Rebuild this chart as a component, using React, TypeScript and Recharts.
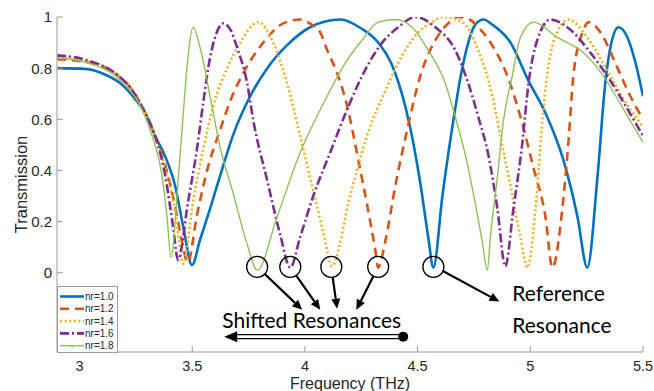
import React from "react";
import { LineChart, Line, XAxis, YAxis, ReferenceDot, ReferenceLine } from "recharts";

// [frequency THz, transmission], one list per refractive index
const nr10 = [
  [2.9, 0.8], [3.024, 0.797], [3.113, 0.775], [3.189, 0.735], [3.246, 0.68], [3.291, 0.625],
  [3.335, 0.535], [3.38, 0.455], [3.424, 0.34], [3.46, 0.18], [3.499, 0.03], [3.535, 0.13],
  [3.579, 0.25], [3.624, 0.38], [3.682, 0.54], [3.757, 0.69], [3.833, 0.8], [3.921, 0.89],
  [4.023, 0.96], [4.157, 0.99], [4.25, 0.955], [4.325, 0.9], [4.401, 0.78], [4.459, 0.6],
  [4.512, 0.35], [4.547, 0.14], [4.57, 0.02], [4.61, 0.3], [4.654, 0.57], [4.698, 0.8],
  [4.756, 0.97], [4.792, 0.99], [4.832, 0.97], [4.912, 0.9], [4.992, 0.75], [5.067, 0.625],
  [5.147, 0.44], [5.209, 0.22], [5.253, 0.02], [5.298, 0.375], [5.333, 0.745], [5.36, 0.9],
  [5.391, 0.96], [5.431, 0.92], [5.467, 0.82], [5.5, 0.69],
];
const nr12 = [
  [2.9, 0.835], [3.038, 0.822], [3.158, 0.78], [3.233, 0.715], [3.291, 0.625], [3.335, 0.535],
  [3.38, 0.42], [3.424, 0.26], [3.455, 0.12], [3.48, 0.04], [3.522, 0.23], [3.566, 0.4],
  [3.624, 0.56], [3.677, 0.69], [3.726, 0.78], [3.815, 0.9], [3.904, 0.975], [3.979, 0.99],
  [4.03, 0.97], [4.068, 0.94], [4.099, 0.87], [4.143, 0.78], [4.188, 0.65], [4.237, 0.44],
  [4.277, 0.26], [4.312, 0.09], [4.325, 0.02], [4.356, 0.12], [4.401, 0.34], [4.454, 0.56],
  [4.512, 0.77], [4.579, 0.91], [4.63, 0.97], [4.681, 1.0], [4.73, 0.99], [4.769, 0.96],
  [4.823, 0.9], [4.898, 0.77], [4.956, 0.61], [5.014, 0.41], [5.067, 0.22], [5.098, 0.02],
  [5.142, 0.25], [5.169, 0.51], [5.191, 0.77], [5.236, 0.95], [5.258, 0.98], [5.311, 0.94],
  [5.387, 0.8], [5.444, 0.69], [5.5, 0.6],
];
const nr14 = [
  [2.9, 0.84], [3.038, 0.827], [3.158, 0.78], [3.233, 0.715], [3.291, 0.625], [3.335, 0.53],
  [3.38, 0.41], [3.424, 0.24], [3.46, 0.035], [3.504, 0.28], [3.548, 0.48], [3.593, 0.65],
  [3.655, 0.8], [3.713, 0.9], [3.793, 0.98], [3.859, 0.9], [3.921, 0.74], [3.979, 0.535],
  [4.037, 0.32], [4.081, 0.16], [4.121, 0.025], [4.157, 0.12], [4.192, 0.27], [4.223, 0.375],
  [4.281, 0.55], [4.356, 0.71], [4.432, 0.85], [4.503, 0.94], [4.565, 0.98], [4.61, 1.0],
  [4.698, 0.98], [4.769, 0.87], [4.832, 0.69], [4.867, 0.535], [4.912, 0.34], [4.956, 0.14],
  [4.987, 0.02], [5.023, 0.25], [5.058, 0.64], [5.102, 0.9], [5.169, 0.99], [5.253, 0.92],
  [5.342, 0.79], [5.413, 0.68], [5.5, 0.57],
];
const nr16 = [
  [2.9, 0.85], [3.038, 0.83], [3.158, 0.78], [3.233, 0.715], [3.291, 0.625], [3.335, 0.535],
  [3.38, 0.38], [3.415, 0.18], [3.437, 0.05], [3.482, 0.28], [3.522, 0.49], [3.548, 0.66],
  [3.579, 0.84], [3.605, 0.93], [3.637, 0.975], [3.67, 0.95], [3.699, 0.88], [3.744, 0.74],
  [3.77, 0.6], [3.833, 0.36], [3.89, 0.15], [3.935, 0.02], [3.979, 0.14], [4.037, 0.3],
  [4.112, 0.47], [4.188, 0.64], [4.254, 0.77], [4.343, 0.9], [4.414, 0.96], [4.49, 1.0],
  [4.579, 0.96], [4.667, 0.87], [4.725, 0.74], [4.769, 0.61], [4.814, 0.46], [4.854, 0.25],
  [4.889, 0.025], [4.925, 0.25], [4.965, 0.51], [4.992, 0.74], [5.031, 0.91], [5.089, 0.99],
  [5.178, 0.95], [5.267, 0.86], [5.356, 0.75], [5.431, 0.64], [5.5, 0.535],
];
const nr18 = [
  [2.9, 0.84], [3.038, 0.82], [3.189, 0.745], [3.277, 0.64], [3.322, 0.535], [3.366, 0.38],
  [3.388, 0.22], [3.406, 0.06], [3.437, 0.355], [3.46, 0.62], [3.482, 0.85], [3.504, 0.96],
  [3.535, 0.88], [3.579, 0.69], [3.624, 0.49], [3.682, 0.31], [3.744, 0.11], [3.788, 0.01],
  [3.877, 0.22], [3.979, 0.47], [4.081, 0.66], [4.179, 0.82], [4.254, 0.91], [4.325, 0.98],
  [4.401, 0.99], [4.476, 0.96], [4.547, 0.87], [4.623, 0.74], [4.667, 0.61], [4.712, 0.46],
  [4.756, 0.27], [4.787, 0.12], [4.809, 0.01], [4.823, 0.14], [4.854, 0.375], [4.88, 0.59],
  [4.92, 0.77], [4.956, 0.92], [5.014, 0.98], [5.12, 0.92], [5.236, 0.86], [5.324, 0.77],
  [5.413, 0.64], [5.5, 0.51],
];

const xTicks = [3, 3.5, 4, 4.5, 5, 5.5];
const yTicks = [0, 0.2, 0.4, 0.6, 0.8, 1];

// annotation anchors, in data units
const shiftedDips = [3.788, 3.935, 4.117, 4.325];
const referenceDip = 4.57;
const shiftedArrows = [
  [[3.822, -0.005], [3.988, -0.145]],
  [[3.961, -0.01], [4.068, -0.145]],
  [[4.123, -0.017], [4.143, -0.141]],
  [[4.304, -0.013], [4.228, -0.145]],
];
const referenceArrow = [[4.61, 0.008], [4.863, -0.113]];
const shiftArrow = [[4.436, -0.25], [3.642, -0.25]];

const series = [
  { name: "nr=1.0", data: nr10, color: "#0072BD", width: 2.6, dash: undefined },
  { name: "nr=1.2", data: nr12, color: "#D95319", width: 2.6, dash: "9 6" },
  { name: "nr=1.4", data: nr14, color: "#EDB120", width: 2.6, dash: "2 2.6" },
  { name: "nr=1.6", data: nr16, color: "#7E2F8E", width: 2.6, dash: "9 3 2 3" },
  { name: "nr=1.8", data: nr18, color: "#8FC15A", width: 1.4, dash: undefined },
];

const axisColor = "#9a9a9a";
const textColor = "#262626";
const tickFont = "'Liberation Sans', Arial, sans-serif";
const noteFont = "Lato, 'Open Sans', sans-serif";

const BottomTick = (p: any) => (
  <g>
    <line x1={p.x} x2={p.x} y1={p.y - 9} y2={p.y - 15} stroke={axisColor} />
    <text x={p.x} y={p.y} dy="0.71em" textAnchor="middle" fontSize={14.5} fontFamily={tickFont} fill={textColor}>
      {p.payload.value}
    </text>
  </g>
);
const LeftTick = (p: any) => (
  <g>
    <line x1={p.x + 5} x2={p.x + 11} y1={p.y} y2={p.y} stroke={axisColor} />
    <text x={p.x} y={p.y} dy="0.36em" textAnchor="end" fontSize={15} fontFamily={tickFont} fill={textColor}>
      {p.payload.value}
    </text>
  </g>
);
const TopTick = (p: any) => <line x1={p.x} x2={p.x} y1={p.y} y2={p.y + 6} stroke={axisColor} />;
const RightTick = (p: any) => <line x1={p.x} x2={p.x - 6} y1={p.y} y2={p.y} stroke={axisColor} />;

const arrowShape = (p: any) => {
  const { x1, y1, x2, y2 } = p;
  const a = Math.atan2(y2 - y1, x2 - x1);
  const c = Math.cos(a), s = Math.sin(a);
  const bx = x2 - 10 * c, by = y2 - 10 * s;
  return (
    <g>
      <line x1={x1} y1={y1} x2={bx} y2={by} stroke="#000" strokeWidth={2.2} />
      <polygon points={`${x2},${y2} ${bx + 4.5 * s},${by - 4.5 * c} ${bx - 4.5 * s},${by + 4.5 * c}`} fill="#000" />
    </g>
  );
};

const doubleArrowShape = (p: any) => {
  const { x1, y1, x2, y2 } = p;
  const head = x2 + 13;
  return (
    <g>
      <line x1={x1} y1={y1 - 2} x2={head} y2={y2 - 2} stroke="#000" strokeWidth={1.4} />
      <line x1={x1} y1={y1 + 2} x2={head} y2={y2 + 2} stroke="#000" strokeWidth={1.4} />
      <polygon points={`${x2},${y2} ${head},${y2 - 5.5} ${head},${y2 + 5.5}`} fill="#000" />
      <circle cx={x1} cy={y1} r={5} fill="#000" />
    </g>
  );
};

const note = (lines: string[]) => (p: any) => (
  <text x={p.cx} y={p.cy} fontSize={21} fontFamily={noteFont} fill="#000">
    {lines.map((l, i) => (
      <tspan key={i} x={p.cx} dy={i === 0 ? 0 : 32}>
        {l}
      </tspan>
    ))}
  </text>
);

function LegendBox() {
  return (
    <div
      style={{
        position: "absolute",
        left: 57,
        top: 286,
        width: 61,
        height: 67,
        background: "#fff",
        border: `1px solid ${axisColor}`,
        boxSizing: "border-box",
      }}
    >
      <svg width={59} height={65} style={{ display: "block" }}>
        {series.map((s, i) => {
          const y = 9.5 + i * 12.3;
          return (
            <g key={s.name}>
              <line x1={2} x2={26} y1={y} y2={y} stroke={s.color} strokeWidth={s.width} strokeDasharray={s.dash} />
              {i === 4 && <text x={14} y={y} dy="0.35em" textAnchor="middle" fontSize={7} fill={s.color}>x</text>}
              <text x={27} y={y} dy="0.36em" fontSize={10} fontFamily={tickFont} fill={textColor}>
                {s.name}
              </text>
            </g>
          );
        })}
      </svg>
    </div>
  );
}

export default function App() {
  return (
    <div style={{ position: "absolute", left: 0, top: 0, width: 654, height: 391, background: "#fff" }}>
      <LineChart width={654} height={391} margin={{ top: 17, right: 11, bottom: 0, left: 0 }}>
        <XAxis
          dataKey="f"
          type="number"
          domain={[2.9, 5.5]}
          ticks={xTicks}
          interval={0}
          height={39}
          tickSize={0}
          tickMargin={9}
          tickLine={false}
          stroke={axisColor}
          tick={<BottomTick />}
          allowDataOverflow
          label={(p: any) => (
            <text
              x={p.viewBox.x + p.viewBox.width / 2}
              y={p.viewBox.y + p.viewBox.height - 2}
              textAnchor="middle"
              fontSize={16}
              fontFamily={tickFont}
              fill={textColor}
            >
              Frequency (THz)
            </text>
          )}
        />
        <XAxis
          xAxisId="top"
          orientation="top"
          type="number"
          domain={[2.9, 5.5]}
          ticks={xTicks}
          interval={0}
          height={0}
          tickSize={0}
          tickMargin={0}
          tickLine={false}
          stroke={axisColor}
          tick={<TopTick />}
          allowDataOverflow
        />
        <YAxis
          type="number"
          domain={[-0.31, 1]}
          ticks={yTicks}
          interval={0}
          width={57}
          tickSize={0}
          tickMargin={5}
          tickLine={false}
          stroke={axisColor}
          tick={<LeftTick />}
          allowDataOverflow
          label={(p: any) => {
            const cx = p.viewBox.x + 26.5;
            const cy = p.viewBox.y + p.viewBox.height / 2;
            return (
              <text
                x={cx}
                y={cy}
                transform={`rotate(-90, ${cx}, ${cy})`}
                textAnchor="middle"
                fontSize={16.5}
                fontFamily={tickFont}
                fill={textColor}
              >
                Transmission
              </text>
            );
          }}
        />
        <YAxis
          yAxisId="right"
          orientation="right"
          type="number"
          domain={[-0.31, 1]}
          ticks={yTicks}
          interval={0}
          width={0}
          tickSize={0}
          tickMargin={0}
          tickLine={false}
          stroke={axisColor}
          tick={<RightTick />}
          allowDataOverflow
        />
        {series.map((s) => (
          <Line
            key={s.name}
            name={s.name}
            data={s.data.map(([f, t]) => ({ f, t }))}
            dataKey="t"
            type="monotone"
            stroke={s.color}
            strokeWidth={s.width}
            strokeDasharray={s.dash}
            dot={false}
            activeDot={false}
            isAnimationActive={false}
          />
        ))}
        {[...shiftedDips, referenceDip].map((f) => (
          <ReferenceDot key={f} x={f} y={0.023} r={10.5} fill="none" stroke="#000" strokeWidth={1.3} ifOverflow="visible" />
        ))}
        {shiftedArrows.map(([a, b], i) => (
          <ReferenceLine
            key={i}
            segment={[{ x: a[0], y: a[1] }, { x: b[0], y: b[1] }]}
            shape={arrowShape}
            ifOverflow="visible"
          />
        ))}
        <ReferenceLine
          segment={[{ x: referenceArrow[0][0], y: referenceArrow[0][1] }, { x: referenceArrow[1][0], y: referenceArrow[1][1] }]}
          shape={arrowShape}
          ifOverflow="visible"
        />
        <ReferenceLine
          segment={[{ x: shiftArrow[0][0], y: shiftArrow[0][1] }, { x: shiftArrow[1][0], y: shiftArrow[1][1] }]}
          shape={doubleArrowShape}
          ifOverflow="visible"
        />
        <ReferenceDot x={3.633} y={-0.215} r={0} ifOverflow="visible" shape={note(["Shifted Resonances"])} />
        <ReferenceDot x={4.92} y={-0.109} r={0} ifOverflow="visible" shape={note(["Reference", "Resonance"])} />
      </LineChart>
      <LegendBox />
    </div>
  );
}
